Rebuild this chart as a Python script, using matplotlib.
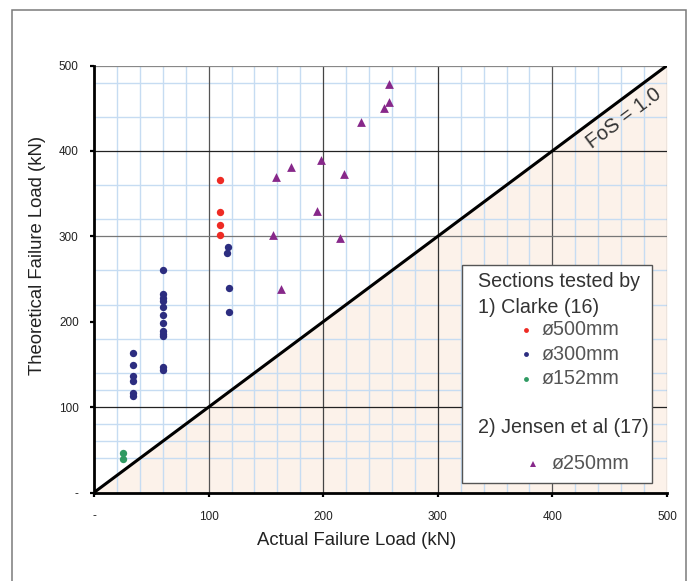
import matplotlib
matplotlib.use('Agg')
import matplotlib.pyplot as plt
from matplotlib.patches import Rectangle
from matplotlib.lines import Line2D
import numpy as np

plt.rcParams['font.family'] = ['Liberation Sans', 'DejaVu Sans']

# ---------------- data (kN) ----------------
clarke500_actual = [110, 110, 110, 110]
clarke500_theory = [366, 329, 313, 301]

clarke300_actual = [34, 34, 34, 34, 34, 34,
                    60, 60, 60, 60, 60, 60, 60, 60, 60, 60, 60, 60,
                    117, 116, 118, 118]
clarke300_theory = [163, 149, 136, 130, 117, 113,
                    261, 232, 228, 224, 217, 208, 198, 189, 186, 183, 147, 144,
                    288, 280, 239, 211]

clarke152_actual = [25, 25]
clarke152_theory = [46, 39]

jensen250_actual = [257, 257, 253, 233, 198, 172, 159, 218, 195, 156, 215, 163]
jensen250_theory = [478, 457, 450, 434, 389, 381, 370, 373, 330, 302, 298, 238]

tick_values = [0, 100, 200, 300, 400, 500]
tick_labels = ['-', '100', '200', '300', '400', '500']

legend_labels = ['ø500mm', 'ø300mm', 'ø152mm', 'ø250mm']

col500 = '#ee2b24'
col300 = '#2c2d80'
col152 = '#2f9a62'
col250 = '#87288a'

# gridlines as they appear in the original raster
vgrid_minor = [v for v in range(20, 500, 20) if v % 100 != 0]
hgrid_minor = [40, 60, 80, 120, 140, 180, 220, 260, 320, 360, 440, 480]
vgrid_major = [(100, '#555555'), (200, '#444444'), (300, '#333333'), (400, '#555555'), (500, '#888888')]
hgrid_major = [(100, '#222222'), (300, '#777777'), (400, '#222222'), (500, '#888888')]

# ---------------- figure ----------------
fig = plt.figure(figsize=(6.92, 5.81), dpi=100)
fig.patch.set_facecolor('white')
fig.patches.append(Rectangle((12/692, -0.02), 674/692, (581-10)/581 + 0.02,
                             transform=fig.transFigure, fill=False,
                             edgecolor='#7a7a7a', linewidth=1.1))

ax = fig.add_axes([94/692, (581-492.5)/581, 573/692, 427/581])
ax.set_xlim(0, 500)
ax.set_ylim(0, 500)

# shaded unsafe zone
xx = np.array([0, 500])
ax.fill_between(xx, 0, xx, color='#fcf2ea', zorder=0, linewidth=0)

# grid
for v in vgrid_minor:
    ax.axvline(v, color='#c6dcf2', lw=1.0, zorder=1)
for v in hgrid_minor:
    ax.axhline(v, color='#c6dcf2', lw=1.0, zorder=1)
for v, c in vgrid_major:
    ax.axvline(v, color=c, lw=0.9, zorder=1.5)
for v, c in hgrid_major:
    ax.axhline(v, color=c, lw=0.9, zorder=1.5)

# FoS line
ax.plot([0, 500], [0, 500], color='black', lw=2.2, zorder=3, solid_capstyle='butt')
ang = np.degrees(np.arctan2(427, 573))
ax.text(462, 438, 'FoS = 1.0', rotation=ang, ha='center', va='center',
        fontsize=14.5, color='#333333', zorder=4, rotation_mode='anchor')

# points
ax.scatter(clarke500_actual, clarke500_theory, s=28, color=col500, zorder=5, linewidths=0)
ax.scatter(clarke300_actual, clarke300_theory, s=28, color=col300, zorder=5, linewidths=0)
ax.scatter(clarke152_actual, clarke152_theory, s=28, color=col152, zorder=5, linewidths=0)
ax.scatter(jensen250_actual, jensen250_theory, s=40, marker='^', color=col250, zorder=5, linewidths=0)

# spines & ticks
for side in ['top', 'right']:
    ax.spines[side].set_visible(False)
for side in ['left', 'bottom']:
    ax.spines[side].set_linewidth(2.0)
    ax.spines[side].set_zorder(6)
ax.set_xticks(tick_values)
ax.set_xticklabels(tick_labels)
ax.set_yticks(tick_values)
ax.set_yticklabels(tick_labels)
ax.tick_params(axis='both', direction='out', length=3, width=1.6, labelsize=8.5,
               colors='black', labelcolor='#222222')
ax.tick_params(axis='x', pad=10)
ax.tick_params(axis='y', pad=8)

ax.set_xlabel('Actual Failure Load (kN)', fontsize=13.3, color='#222222')
ax.set_ylabel('Theoretical Failure Load (kN)', fontsize=13.3, color='#222222')
ax.xaxis.set_label_coords(0.459, -0.092)
ax.yaxis.set_label_coords(-0.084, 0.556)

# legend box
ax.add_patch(Rectangle((0.642, 0.022), 0.332, 0.511, transform=ax.transAxes,
                       facecolor='white', edgecolor='#555555', lw=1.0, zorder=7))
tc = '#333333'
fs = 14.2
ax.text(0.670, 0.493, 'Sections tested by', transform=ax.transAxes, fontsize=fs,
        color=tc, va='center', ha='left', zorder=8)
ax.text(0.670, 0.434, '1) Clarke (16)', transform=ax.transAxes, fontsize=fs,
        color=tc, va='center', ha='left', zorder=8)
ax.text(0.670, 0.153, '2) Jensen et al (17)', transform=ax.transAxes, fontsize=fs,
        color=tc, va='center', ha='left', zorder=8)
leg_rows = [(col500, 'o', 0.754, 0.782, 0.381, legend_labels[0]),
            (col300, 'o', 0.754, 0.782, 0.324, legend_labels[1]),
            (col152, 'o', 0.754, 0.782, 0.266, legend_labels[2]),
            (col250, '^', 0.766, 0.798, 0.067, legend_labels[3])]
for c, m, mx, tx, yy, lab in leg_rows:
    ax.add_line(Line2D([mx], [yy], marker=m, color=c, markersize=3.5 if m == 'o' else 4.5,
                       markeredgewidth=0, transform=ax.transAxes, zorder=8))
    ax.text(tx, yy, lab, transform=ax.transAxes, fontsize=fs, color='#555555',
            va='center', ha='left', zorder=8)

fig.savefig('out.png', dpi=100)
